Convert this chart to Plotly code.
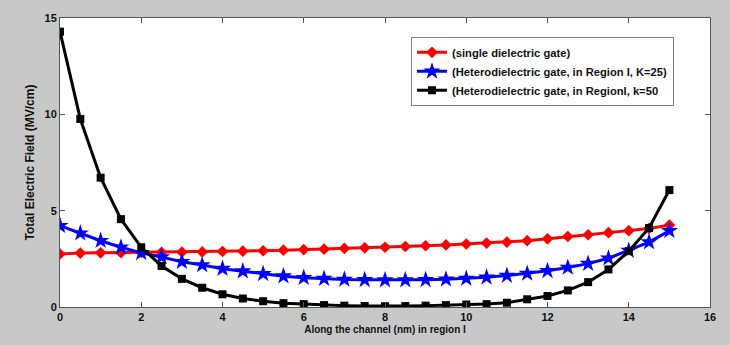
import plotly.graph_objects as go

x_nm = [i * 0.5 for i in range(31)]

single_gate = [2.75, 2.8, 2.81, 2.82, 2.83, 2.84, 2.85, 2.86, 2.88, 2.9, 2.92, 2.95, 2.98, 3.0, 3.04, 3.07,
               3.1, 3.14, 3.18, 3.22, 3.27, 3.32, 3.37, 3.44, 3.54, 3.66, 3.75, 3.86, 3.96, 4.08, 4.25]
hetero_k25 = [4.22, 3.83, 3.44, 3.1, 2.81, 2.59, 2.35, 2.18, 1.99, 1.86, 1.72, 1.6, 1.52, 1.47, 1.43, 1.41,
              1.4, 1.4, 1.41, 1.44, 1.48, 1.54, 1.63, 1.74, 1.88, 2.05, 2.25, 2.53, 2.93, 3.37, 3.96]
hetero_k50 = [14.29, 9.76, 6.71, 4.56, 3.1, 2.13, 1.46, 1.0, 0.66, 0.44, 0.3, 0.2, 0.15, 0.1, 0.07, 0.05,
              0.04, 0.05, 0.07, 0.1, 0.13, 0.15, 0.22, 0.4, 0.57, 0.86, 1.29, 1.95, 2.9, 4.1, 6.07]

names = ["(single dielectric gate)",
         "(Heterodielectric gate, in Region I, K=25)",
         "(Heterodielectric gate, in RegionI, k=50"]

x_ticks = [0, 2, 4, 6, 8, 10, 12, 14, 16]
y_ticks = [0, 5, 10, 15]

fig = go.Figure()
fig.add_trace(go.Scatter(x=x_nm, y=single_gate, mode="lines+markers", name=names[0],
                         line=dict(color="#ff0000", width=3),
                         marker=dict(symbol="diamond", size=9, color="#ff0000")))
fig.add_trace(go.Scatter(x=x_nm, y=hetero_k25, mode="lines+markers", name=names[1],
                         line=dict(color="#0000ff", width=3),
                         marker=dict(symbol="star", size=13, color="#0000ff")))
fig.add_trace(go.Scatter(x=x_nm, y=hetero_k50, mode="lines+markers", name=names[2],
                         line=dict(color="#000000", width=3),
                         marker=dict(symbol="square", size=8, color="#000000")))

tick_font = dict(family="Liberation Sans, Arial, sans-serif", size=11, color="#111111", weight="bold")
xtitle_font = dict(family="Liberation Sans Narrow, Liberation Sans, sans-serif", size=10,
                   color="#111111", weight="bold")
ytitle_font = dict(family="Liberation Sans, Arial, sans-serif", size=12, color="#111111", weight="bold")

fig.update_layout(
    width=730, height=345,
    margin=dict(l=60, r=20, t=12, b=38),
    paper_bgcolor="#c8c8c8",
    plot_bgcolor="#ffffff",
    showlegend=True,
    legend=dict(x=0.54, y=0.935, xanchor="left", yanchor="top",
                bgcolor="#ffffff", bordercolor="#808080", borderwidth=1,
                font=dict(family="Liberation Sans, Arial, sans-serif", size=11.2, color="#111111", weight="bold"),
                tracegroupgap=0, itemwidth=30),
    xaxis=dict(range=[0, 16], tickvals=x_ticks, ticks="inside", ticklen=5, tickcolor="#555555",
               showgrid=False, zeroline=False, showline=True, linecolor="#555555", linewidth=1,
               mirror="ticks", tickfont=tick_font,
               title=dict(text="Along the channel (nm) in region I", font=xtitle_font, standoff=3)),
    yaxis=dict(range=[0, 15], tickvals=y_ticks, ticks="inside", ticklen=5, tickcolor="#555555",
               showgrid=False, zeroline=False, showline=True, linecolor="#555555", linewidth=1,
               mirror="ticks", tickfont=tick_font,
               title=dict(text="Total Electric Field (MV/cm)", font=ytitle_font, standoff=7)),
)

fig.write_html("out.html")
